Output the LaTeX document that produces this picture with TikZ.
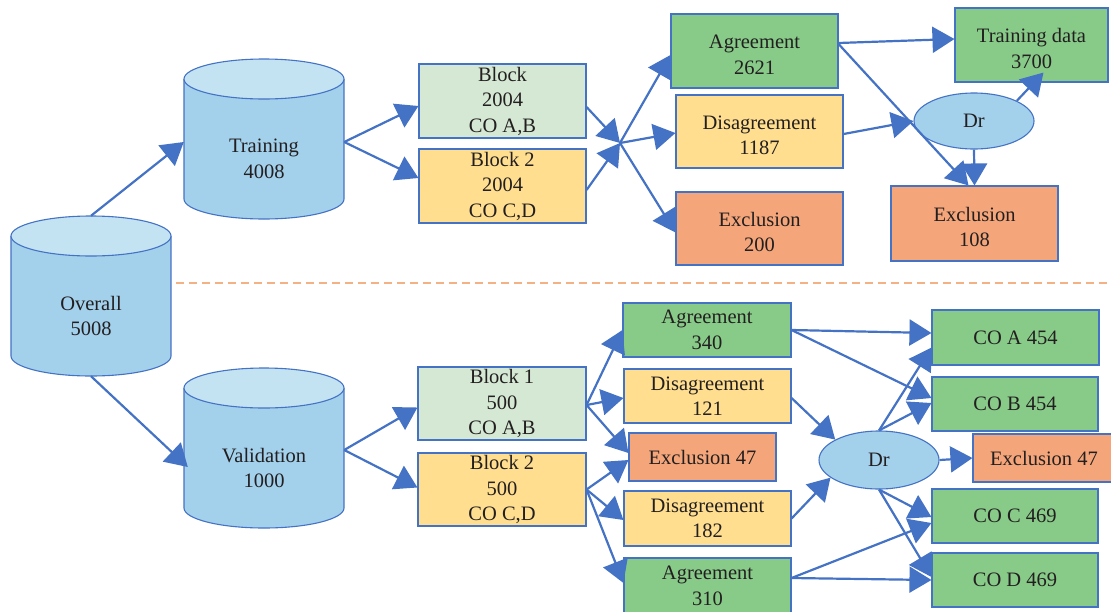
\documentclass[tikz,border=0pt]{standalone}
\usepackage{fontspec}
\setmainfont{Liberation Serif}
\usetikzlibrary{arrows.meta,calc,shapes.geometric}
\definecolor{eblue}{RGB}{68,114,196}
\definecolor{gbox}{RGB}{136,203,137}
\definecolor{lgbox}{RGB}{213,232,212}
\definecolor{ybox}{RGB}{255,222,143}
\definecolor{obox}{RGB}{244,166,122}
\definecolor{cylb}{RGB}{163,209,236}
\definecolor{cylt}{RGB}{195,227,243}
\definecolor{dashc}{RGB}{244,177,131}
\definecolor{txt}{RGB}{35,31,32}
\newcommand\dnstrut{\rule{0pt}{21pt}}
\newcommand\cylnode[4]{%
  \fill[cylb] (#2-80,#3+20) rectangle (#2+80,#3+140);
  \fill[cylb] (#2,#3+140) ellipse [x radius=80pt, y radius=20pt];
  \draw[eblue,line width=1.1pt] (#2-80,#3+20) -- (#2-80,#3+140)
     arc[start angle=180,end angle=360,x radius=80pt,y radius=20pt] -- (#2+80,#3+20);
  \draw[eblue,line width=1.1pt,fill=cylt] (#2,#3+20) ellipse [x radius=80pt, y radius=20pt];
  \node[cyl] (#1) at (#2,#3+100) {#4};
}
\begin{document}
\begin{tikzpicture}[x=1pt,y=-1pt,
  txtfont/.style={text=txt,font=\fontsize{20.5}{25.5}\selectfont,align=center},
  box/.style={txtfont,draw=eblue,line width=1.1pt,rectangle,inner sep=0pt},
  cyl/.style={txtfont,rectangle,inner sep=0pt,minimum width=160pt,minimum height=120pt},
  drnode/.style={txtfont,ellipse,draw=eblue,line width=1.1pt,fill=cylb,inner sep=0pt},
  arr/.style={draw=eblue,line width=2.2pt,-{Triangle[length=22pt,width=26pt]}},
  divider/.style={draw=dashc,line width=1.4pt,dash pattern=on 8pt off 5pt}]
\useasboundingbox (0,0) rectangle (1111,611);

% cylinders
\cylnode{train}{264}{59}{Training\\4008}
\cylnode{overall}{91}{216}{Overall\\5008}
\cylnode{valid}{264}{368}{Validation\\1000}

% divider
\coordinate (d1) at (176,283);
\coordinate (d2) at (1111,283);
\draw[divider] (d1) -- (d2);

% top section
\node[box,fill=lgbox,minimum width=167pt,minimum height=74pt] (blkA) at (502.5,101) {Block\\2004\\CO A,B};
\node[box,fill=ybox,minimum width=167pt,minimum height=74pt] (blkB) at (502.5,186) {Block 2\\2004\\CO C,D};
\node[box,fill=gbox,minimum width=167pt,minimum height=74pt] (agr1) at (754.5,51) {\dnstrut Agreement\\2621};
\node[box,fill=ybox,minimum width=167pt,minimum height=73pt] (dis1) at (759.5,131.5) {\dnstrut Disagreement\\1187};
\node[box,fill=obox,minimum width=167pt,minimum height=73pt] (exc1) at (759.5,228.5) {\dnstrut Exclusion\\200};
\node[box,fill=gbox,minimum width=153pt,minimum height=74pt] (trd) at (1031.5,45) {\dnstrut Training data\\3700};
\node[drnode,minimum width=120pt,minimum height=56pt] (dr1) at (974,121) {Dr};
\node[box,fill=obox,minimum width=167pt,minimum height=75pt] (exc2) at (974.5,223.5) {\dnstrut Exclusion\\108};
\coordinate (J) at (620,143);

% bottom section
\node[box,fill=lgbox,minimum width=168pt,minimum height=73pt] (blk1) at (502,403.5) {Block 1\\500\\CO A,B};
\node[box,fill=ybox,minimum width=168pt,minimum height=73pt] (blk2) at (502,489.5) {Block 2\\500\\CO C,D};
\node[box,fill=gbox,minimum width=168pt,minimum height=54pt] (agr2) at (707,330) {Agreement\\340};
\node[box,fill=ybox,minimum width=167pt,minimum height=54pt] (dis2) at (707.5,396) {Disagreement\\121};
\node[box,fill=obox,minimum width=147pt,minimum height=48pt] (exc3) at (702.5,457) {Exclusion 47};
\node[box,fill=ybox,minimum width=167pt,minimum height=55pt] (dis3) at (707.5,518.5) {Disagreement\\182};
\node[box,fill=gbox,minimum width=167pt,minimum height=56pt] (agr3) at (707.5,586) {Agreement\\310};
\node[drnode,minimum width=120pt,minimum height=58pt] (dr2) at (879,460) {Dr};
\node[box,fill=gbox,minimum width=167pt,minimum height=55pt] (coA) at (1015.5,337.5) {CO A 454};
\node[box,fill=gbox,minimum width=166pt,minimum height=54pt] (coB) at (1015,404) {CO B 454};
\node[box,fill=obox,minimum width=142pt,minimum height=48pt] (exc4) at (1044,458) {Exclusion 47};
\node[box,fill=gbox,minimum width=166pt,minimum height=54pt] (coC) at (1015,516) {CO C 469};
\node[box,fill=gbox,minimum width=166pt,minimum height=54pt] (coD) at (1015,580) {CO D 469};

% connectors top
\draw[arr] ($(overall.north)+(0,-40)$) -- ($(train.west)+(0,-17)$);
\draw[arr] ($(overall.south)+(0,0)$) -- ($(valid.west)+(4,-1)$);
\draw[arr] ($(train.east)+(0,-17)$) -- ($(blkA.west)+(0,5)$);
\draw[arr] ($(train.east)+(0,-17)$) -- ($(blkB.west)+(0,-8)$);
\draw[arr] ($(blkA.east)+(0,6)$) -- (J);
\draw[arr] ($(blkB.east)+(0,4)$) -- (J);
\draw[arr] (J) -- ($(agr1.west)+(0,4)$);
\draw[arr] (J) -- ($(dis1.west)+(0,1.5)$);
\draw[arr] (J) -- ($(exc1.west)+(0,4)$);
\draw[arr] ($(agr1.east)+(0,-8)$) -- ($(trd.west)+(0,-6)$);
\draw[arr] ($(agr1.east)+(0,-7)$) -- ($(exc2.north)+(-6,0)$);
\draw[arr] ($(dis1.east)+(0,2.5)$) -- (dr1.west);
\draw[arr] (dr1.north east) -- ($(trd.south)+(12,-10)$);
\draw[arr] (dr1.south) -- (exc2.north);

% connectors bottom
\draw[arr] ($(valid.east)+(0,-18)$) -- ($(blk1.west)+(0,4)$);
\draw[arr] ($(valid.east)+(0,-18)$) -- ($(blk2.west)+(0,-2)$);
\draw[arr] ($(blk1.east)+(0,1.5)$) -- (agr2.west);
\draw[arr] ($(blk1.east)+(0,1.5)$) -- ($(dis2.west)+(0,2)$);
\draw[arr] ($(blk1.east)+(0,1.5)$) -- ($(exc3.west)+(0,-4)$);
\draw[arr] (blk2.east) -- ($(exc3.west)+(0,3)$);
\draw[arr] (blk2.east) -- ($(dis3.west)+(0,1.5)$);
\draw[arr] (blk2.east) -- ($(agr3.west)+(0,-3)$);
\draw[arr] (agr2.east) -- ($(coA.west)+(0,-4.5)$);
\draw[arr] (agr2.east) -- ($(coB.west)+(0,-6)$);
\draw[arr] ($(dis2.east)+(0,2)$) -- (dr2.155);
\draw[arr] (dis3.east) -- (dr2.200);
\draw[arr] (dr2.north) -- ($(coA.west)+(0,10)$);
\draw[arr] (dr2.north) -- ($(coB.west)+(0,-1)$);
\draw[arr] (dr2.east) -- (exc4.west);
\draw[arr] (dr2.south) -- ($(coC.west)+(0,1)$);
\draw[arr] (dr2.south) -- ($(coD.west)+(0,-3)$);
\draw[arr] ($(agr3.east)+(0,-8)$) -- ($(coC.west)+(0,7)$);
\draw[arr] ($(agr3.east)+(0,-8)$) -- (coD.west);
\end{tikzpicture}
\end{document}
